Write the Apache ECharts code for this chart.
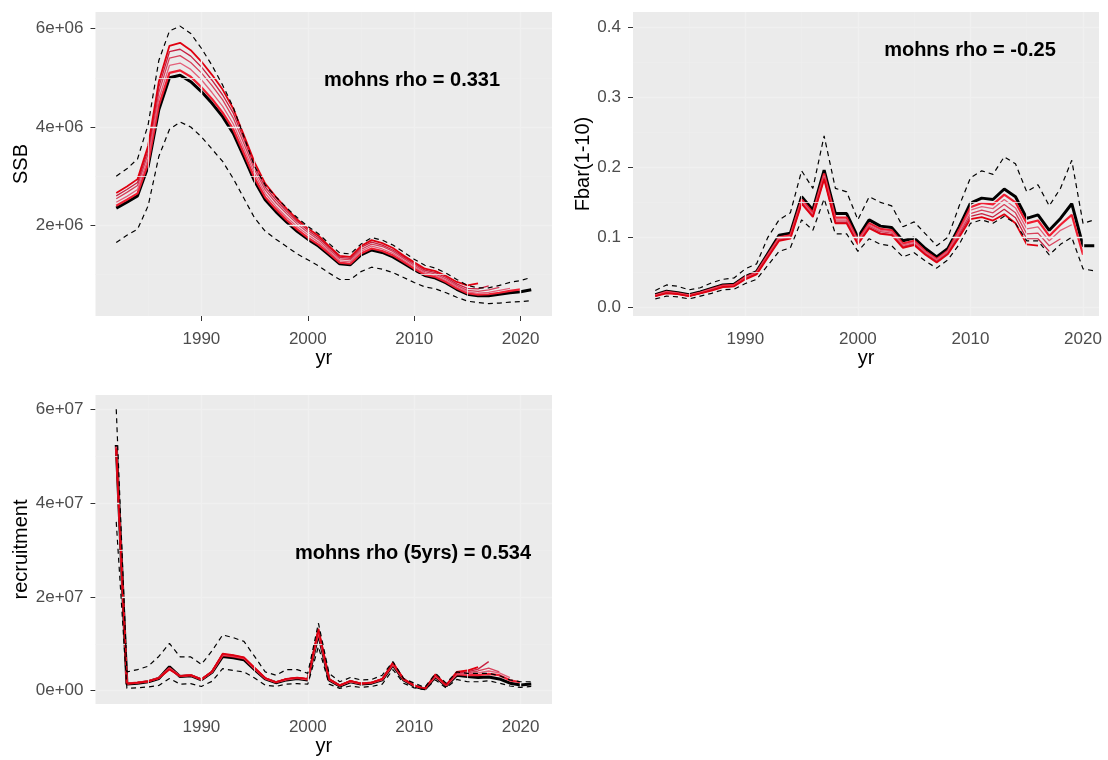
<!DOCTYPE html>
<html>
<head>
<meta charset="utf-8">
<script src="https://cdn.jsdelivr.net/npm/echarts@6/dist/echarts.min.js"></script>
<style>
  html, body { margin: 0; padding: 0; background: #ffffff; }
  #chart { width: 1108px; height: 760px; }
</style>
</head>
<body>
<div id="chart"></div>
<script>
// ---------------- DATA ----------------
const years = [1982,1983,1984,1985,1986,1987,1988,1989,1990,1991,
               1992,1993,1994,1995,1996,1997,1998,1999,2000,2001,
               2002,2003,2004,2005,2006,2007,2008,2009,2010,2011,
               2012,2013,2014,2015,2016,2017,2018,2019,2020,2021];

// SSB (millions)
const ssbFull = [2.35,2.47,2.60,3.20,4.35,5.00,5.05,4.92,4.72,4.48,
                 4.21,3.87,3.39,2.90,2.52,2.28,2.07,1.88,1.72,1.58,
                 1.40,1.22,1.20,1.40,1.50,1.45,1.36,1.23,1.10,0.98,
                 0.93,0.83,0.70,0.60,0.57,0.57,0.60,0.63,0.65,0.69];
const ssbLow  = [1.65,1.80,1.92,2.40,3.40,3.95,4.10,4.00,3.80,3.55,
                 3.30,2.95,2.55,2.15,1.88,1.72,1.57,1.42,1.30,1.18,
                 1.03,0.90,0.90,1.06,1.15,1.11,1.04,0.94,0.84,0.75,
                 0.71,0.63,0.54,0.46,0.43,0.41,0.42,0.44,0.45,0.47];
const ssbHigh = [3.00,3.15,3.35,4.05,5.35,5.95,6.05,5.90,5.60,5.25,
                 4.85,4.40,3.80,3.20,2.82,2.58,2.36,2.16,1.98,1.83,
                 1.63,1.44,1.42,1.62,1.75,1.70,1.60,1.46,1.31,1.19,
                 1.13,1.03,0.90,0.78,0.73,0.73,0.78,0.84,0.88,0.94];
const ssbPeel2020 = [2.40,2.52,2.65,3.26,4.44,5.10,5.15,5.02,4.81,4.57,
                     4.29,3.95,3.46,2.96,2.57,2.33,2.11,1.92,1.75,1.61,
                     1.43,1.24,1.22,1.43,1.53,1.48,1.39,1.26,1.12,1.00,
                     0.95,0.85,0.72,0.62,0.59,0.60,0.63,0.67,0.70];
const ssbPeel2019 = [2.47,2.59,2.73,3.36,4.57,5.25,5.30,5.17,4.96,4.70,
                     4.42,4.06,3.56,3.05,2.65,2.39,2.17,1.97,1.81,1.66,
                     1.47,1.28,1.26,1.47,1.58,1.52,1.43,1.29,1.16,1.03,
                     0.98,0.88,0.75,0.65,0.62,0.64,0.68,0.72];
const ssbPeel2018 = [2.54,2.67,2.81,3.46,4.70,5.40,5.45,5.31,5.10,4.84,
                     4.55,4.18,3.66,3.13,2.72,2.46,2.24,2.03,1.86,1.71,
                     1.51,1.32,1.30,1.51,1.62,1.57,1.47,1.33,1.19,1.06,
                     1.01,0.91,0.78,0.68,0.66,0.69,0.74];
const ssbPeel2017 = [2.60,2.73,2.87,3.54,4.81,5.53,5.58,5.44,5.22,4.95,
                     4.65,4.28,3.75,3.20,2.78,2.52,2.29,2.08,1.90,1.75,
                     1.55,1.35,1.33,1.55,1.66,1.60,1.50,1.36,1.22,1.09,
                     1.04,0.94,0.81,0.72,0.71,0.77];
const ssbPeel2016 = [2.66,2.79,2.94,3.62,4.92,5.65,5.71,5.56,5.33,5.06,
                     4.76,4.37,3.83,3.28,2.85,2.58,2.34,2.12,1.94,1.79,
                     1.58,1.38,1.36,1.58,1.70,1.64,1.54,1.39,1.25,1.12,
                     1.07,0.97,0.85,0.78,0.82];

// Fbar(1-10)
const fFull = [0.018,0.023,0.021,0.018,0.022,0.027,0.032,0.033,0.044,0.051,
               0.077,0.103,0.106,0.158,0.139,0.196,0.134,0.134,0.100,0.125,
               0.116,0.114,0.095,0.099,0.084,0.072,0.084,0.115,0.149,0.156,
               0.154,0.169,0.158,0.127,0.132,0.110,0.127,0.148,0.088,0.088];
const fLow  = [0.012,0.016,0.015,0.012,0.016,0.020,0.025,0.026,0.034,0.040,
               0.060,0.080,0.085,0.125,0.110,0.155,0.105,0.105,0.080,0.098,
               0.090,0.088,0.072,0.078,0.066,0.056,0.068,0.090,0.120,0.125,
               0.120,0.130,0.120,0.095,0.095,0.075,0.090,0.100,0.055,0.052];
const fHigh = [0.024,0.032,0.030,0.025,0.028,0.035,0.040,0.042,0.055,0.062,
               0.100,0.125,0.135,0.195,0.170,0.245,0.170,0.165,0.125,0.158,
               0.150,0.145,0.115,0.122,0.105,0.088,0.100,0.145,0.185,0.195,
               0.190,0.215,0.205,0.165,0.175,0.145,0.170,0.210,0.120,0.125];
const fPeel2020 = [0.017,0.022,0.020,0.017,0.021,0.026,0.031,0.032,0.043,0.050,
                   0.075,0.100,0.103,0.154,0.135,0.191,0.128,0.128,0.096,0.120,
                   0.112,0.110,0.091,0.095,0.080,0.069,0.081,0.111,0.143,0.149,
                   0.147,0.161,0.150,0.120,0.124,0.102,0.118,0.132,0.075];
const fPeel2019 = [0.017,0.022,0.020,0.017,0.021,0.026,0.030,0.031,0.042,0.049,
                   0.074,0.099,0.101,0.152,0.133,0.188,0.125,0.125,0.094,0.118,
                   0.110,0.108,0.089,0.093,0.079,0.068,0.080,0.108,0.139,0.144,
                   0.141,0.154,0.142,0.112,0.115,0.095,0.110,0.118];
const fPeel2018 = [0.016,0.021,0.019,0.016,0.020,0.025,0.030,0.031,0.041,0.048,
                   0.073,0.097,0.100,0.150,0.131,0.186,0.123,0.123,0.092,0.116,
                   0.108,0.106,0.087,0.091,0.077,0.066,0.078,0.105,0.134,0.139,
                   0.135,0.147,0.135,0.105,0.106,0.088,0.098];
const fPeel2017 = [0.016,0.021,0.019,0.016,0.020,0.025,0.029,0.030,0.041,0.048,
                   0.072,0.096,0.099,0.149,0.130,0.184,0.121,0.121,0.091,0.114,
                   0.106,0.104,0.086,0.090,0.076,0.065,0.077,0.102,0.130,0.134,
                   0.129,0.140,0.128,0.098,0.098,0.080];
const fPeel2016 = [0.016,0.020,0.019,0.016,0.020,0.024,0.029,0.030,0.040,0.047,
                   0.071,0.095,0.098,0.148,0.129,0.183,0.120,0.120,0.090,0.113,
                   0.105,0.103,0.085,0.089,0.075,0.064,0.076,0.100,0.126,0.129,
                   0.124,0.133,0.120,0.090,0.088];

// Recruitment (millions)
const recFull = [52.4,1.4,1.6,1.9,2.6,5.1,3.0,3.2,2.3,3.9,
                 7.3,7.0,6.6,4.5,2.5,1.7,2.3,2.6,2.3,12.2,
                 2.3,1.0,1.9,1.4,1.6,2.3,5.5,2.3,1.0,0.3,
                 3.0,1.0,3.3,3.0,2.8,2.9,2.5,1.6,1.2,1.4];
const recLow  = [36.0,0.5,0.6,0.8,1.1,2.6,1.4,1.5,0.9,2.0,
                 4.7,4.3,4.0,2.7,1.2,0.9,1.4,1.5,1.4,9.4,
                 1.4,0.5,1.0,0.7,0.9,1.4,4.5,1.6,0.6,0.2,
                 2.3,0.6,2.4,1.9,1.9,2.1,1.6,1.0,0.7,0.9];
const recHigh = [60.0,4.0,4.5,5.2,7.3,10.1,7.2,7.2,5.6,8.5,
                 11.9,11.3,10.5,7.3,4.0,3.3,4.5,4.5,3.7,14.4,
                 3.7,1.9,2.8,2.3,2.4,3.3,6.2,2.6,1.6,0.7,
                 3.7,1.6,4.0,3.7,3.7,3.7,3.2,2.3,1.9,1.9];
const recPeel2020 = [52.0,1.5,1.7,2.0,2.7,4.8,3.1,3.3,2.4,4.0,
                     7.6,7.3,6.9,4.7,2.6,1.8,2.4,2.7,2.4,12.5,
                     2.4,1.1,2.0,1.5,1.7,2.4,5.6,2.4,1.1,0.4,
                     3.1,1.1,3.5,3.3,3.3,3.6,3.3,2.2,1.8];
const recPeel2019 = [52.0,1.5,1.7,2.0,2.7,4.7,3.1,3.3,2.4,4.0,
                     7.7,7.4,7.0,4.7,2.6,1.8,2.4,2.7,2.4,12.6,
                     2.4,1.1,2.0,1.5,1.7,2.4,5.7,2.4,1.1,0.4,
                     3.2,1.1,3.6,3.6,3.8,4.2,3.8,2.8];
const recPeel2018 = [51.8,1.5,1.7,2.0,2.7,4.6,3.1,3.3,2.4,4.0,
                     7.8,7.5,7.0,4.8,2.7,1.8,2.5,2.7,2.5,12.8,
                     2.5,1.1,2.0,1.5,1.7,2.5,5.8,2.5,1.1,0.4,
                     3.3,1.2,3.7,3.8,4.2,4.8,4.0];
const recPeel2017 = [51.8,1.5,1.7,2.0,2.7,4.6,3.1,3.3,2.4,4.1,
                     7.8,7.5,7.1,4.8,2.7,1.8,2.5,2.8,2.5,13.0,
                     2.5,1.1,2.1,1.5,1.7,2.5,5.9,2.5,1.1,0.4,
                     3.4,1.2,3.8,4.0,4.6,6.2];
const recPeel2016 = [51.6,1.5,1.7,2.0,2.7,4.5,3.1,3.3,2.4,4.1,
                     7.9,7.6,7.1,4.9,2.7,1.8,2.5,2.8,2.5,13.2,
                     2.5,1.1,2.1,1.5,1.7,2.5,6.0,2.5,1.1,0.4,
                     3.5,1.2,4.0,4.3,5.0];

// Tick / grid values
const xTicks = [1990, 2000, 2010, 2020];
const xMinor = [1985, 1995, 2005, 2015];
const ssbTicks = [2, 4, 6];          // millions
const ssbMinor = [1, 3, 5];
const fTicks = [0, 0.1, 0.2, 0.3, 0.4];
const fMinor = [0.05, 0.15, 0.25, 0.35];
const recTicks = [0, 20, 40, 60];    // millions
const recMinor = [10, 30, 50];

const annoSSB = 'mohns rho = 0.331';
const annoF = 'mohns rho = -0.25';
const annoRec = 'mohns rho (5yrs) = 0.534';

// ---------------- CHART ----------------
const FONT = '"Liberation Sans", Arial, sans-serif';
const peelStyles = [
  { name: 'peel2020', color: '#F01E32', width: 2.2 },
  { name: 'peel2019', color: '#E4607A', width: 1.3 },
  { name: 'peel2018', color: '#D8405A', width: 1.3 },
  { name: 'peel2017', color: '#C82040', width: 1.3 },
  { name: 'peel2016', color: '#E00010', width: 1.8 }
];

function pairs(vals) { return vals.map((v, i) => [years[i], v]); }
function sci(v) {
  return (v * 1e6).toExponential(0).replace(/e([+-])(\d)$/, 'e$10$2');
}

function xAxis(gi, min, max) {
  return {
    type: 'value', gridIndex: gi, min: min, max: max,
    name: 'yr', nameLocation: 'middle', nameGap: 32,
    nameTextStyle: { fontSize: 20, color: '#000', fontFamily: FONT },
    axisLine: { show: false },
    axisTick: { show: true, length: 5, customValues: xTicks, lineStyle: { color: '#333', width: 1 } },
    axisLabel: { customValues: xTicks, fontSize: 17, color: '#4D4D4D', margin: 15, fontFamily: FONT,
                 formatter: v => String(v) },
    splitLine: { show: false }
  };
}
function yAxis(gi, min, max, ticks, name, fmt, gap) {
  return {
    type: 'value', gridIndex: gi, min: min, max: max,
    name: name, nameLocation: 'middle', nameGap: gap, nameRotate: 90,
    nameTextStyle: { fontSize: 20, color: '#000', fontFamily: FONT },
    axisLine: { show: false },
    axisTick: { show: true, length: 5, customValues: ticks, lineStyle: { color: '#333', width: 1 } },
    axisLabel: { customValues: ticks, fontSize: 17, color: '#4D4D4D', margin: 12, fontFamily: FONT,
                 formatter: fmt },
    splitLine: { show: false }
  };
}

function gridSeries(gi, xMaj, xMin, yMaj, yMin) {
  const major = { color: '#F0F0F0', width: 1.4, type: 'solid' };
  const minor = { color: '#EDEDED', width: 0.8, type: 'solid' };
  const d = [];
  yMin.forEach(v => d.push({ yAxis: v, lineStyle: minor }));
  xMin.forEach(v => d.push({ xAxis: v, lineStyle: minor }));
  yMaj.forEach(v => d.push({ yAxis: v, lineStyle: major }));
  xMaj.forEach(v => d.push({ xAxis: v, lineStyle: major }));
  return {
    type: 'line', xAxisIndex: gi, yAxisIndex: gi, data: [], z: 1, silent: true,
    markLine: { silent: true, symbol: ['none', 'none'], label: { show: false },
                animation: false, data: d }
  };
}

function panelSeries(gi, full, low, high, peels) {
  const s = [];
  s.push({ type: 'line', xAxisIndex: gi, yAxisIndex: gi, data: pairs(full), showSymbol: false,
           lineStyle: { color: '#000', width: 3 }, z: 3, silent: true });
  peels.forEach((p, k) => {
    const st = peelStyles[k];
    s.push({ type: 'line', xAxisIndex: gi, yAxisIndex: gi, data: pairs(p), showSymbol: false,
             lineStyle: { color: st.color, width: st.width }, z: 4, silent: true });
  });
  [low, high].forEach(arr => {
    s.push({ type: 'line', xAxisIndex: gi, yAxisIndex: gi, data: pairs(arr), showSymbol: false,
             lineStyle: { color: '#000', width: 1.2, type: [5, 4] }, z: 5, silent: true });
  });
  return s;
}

const chart = echarts.init(document.getElementById('chart'), null, { renderer: 'canvas' });

const gridBase = { show: true, backgroundColor: '#EBEBEB', borderWidth: 0, containLabel: false };

const option = {
  animation: false,
  backgroundColor: '#ffffff',
  grid: [
    Object.assign({ left: 95.5, top: 12, width: 456.5, height: 304 }, gridBase),
    Object.assign({ left: 633, top: 12, width: 466, height: 304 }, gridBase),
    Object.assign({ left: 95.5, top: 395, width: 456.5, height: 309 }, gridBase)
  ],
  xAxis: [
    xAxis(0, 1980.05, 2022.95),
    xAxis(1, 1980.02, 2021.42),
    xAxis(2, 1980.05, 2022.95)
  ],
  yAxis: [
    yAxis(0, 0.158, 6.337, ssbTicks, 'SSB', sci, 63),
    yAxis(1, -0.0124, 0.4219, fTicks, 'Fbar(1-10)', v => v.toFixed(1), 36),
    yAxis(2, -2.84, 63.05, recTicks, 'recruitment', sci, 59)
  ],
  series: [].concat(
    gridSeries(0, xTicks, xMinor, ssbTicks, ssbMinor),
    gridSeries(1, xTicks, xMinor, fTicks, fMinor),
    gridSeries(2, xTicks, xMinor, recTicks, recMinor),
    panelSeries(0, ssbFull, ssbLow, ssbHigh, [ssbPeel2020, ssbPeel2019, ssbPeel2018, ssbPeel2017, ssbPeel2016]),
    panelSeries(1, fFull, fLow, fHigh, [fPeel2020, fPeel2019, fPeel2018, fPeel2017, fPeel2016]),
    panelSeries(2, recFull, recLow, recHigh, [recPeel2020, recPeel2019, recPeel2018, recPeel2017, recPeel2016])
  ),
  graphic: [
    { type: 'text', x: 412, y: 80, z: 100,
      style: { text: annoSSB, font: 'bold 20px ' + FONT, fill: '#000',
               align: 'center', verticalAlign: 'middle', textAlign: 'center', textVerticalAlign: 'middle' } },
    { type: 'text', x: 970, y: 50, z: 100,
      style: { text: annoF, font: 'bold 20px ' + FONT, fill: '#000',
               align: 'center', verticalAlign: 'middle', textAlign: 'center', textVerticalAlign: 'middle' } },
    { type: 'text', x: 413, y: 553, z: 100,
      style: { text: annoRec, font: 'bold 20px ' + FONT, fill: '#000',
               align: 'center', verticalAlign: 'middle', textAlign: 'center', textVerticalAlign: 'middle' } }
  ]
};
chart.setOption(option);
</script>
</body>
</html>
